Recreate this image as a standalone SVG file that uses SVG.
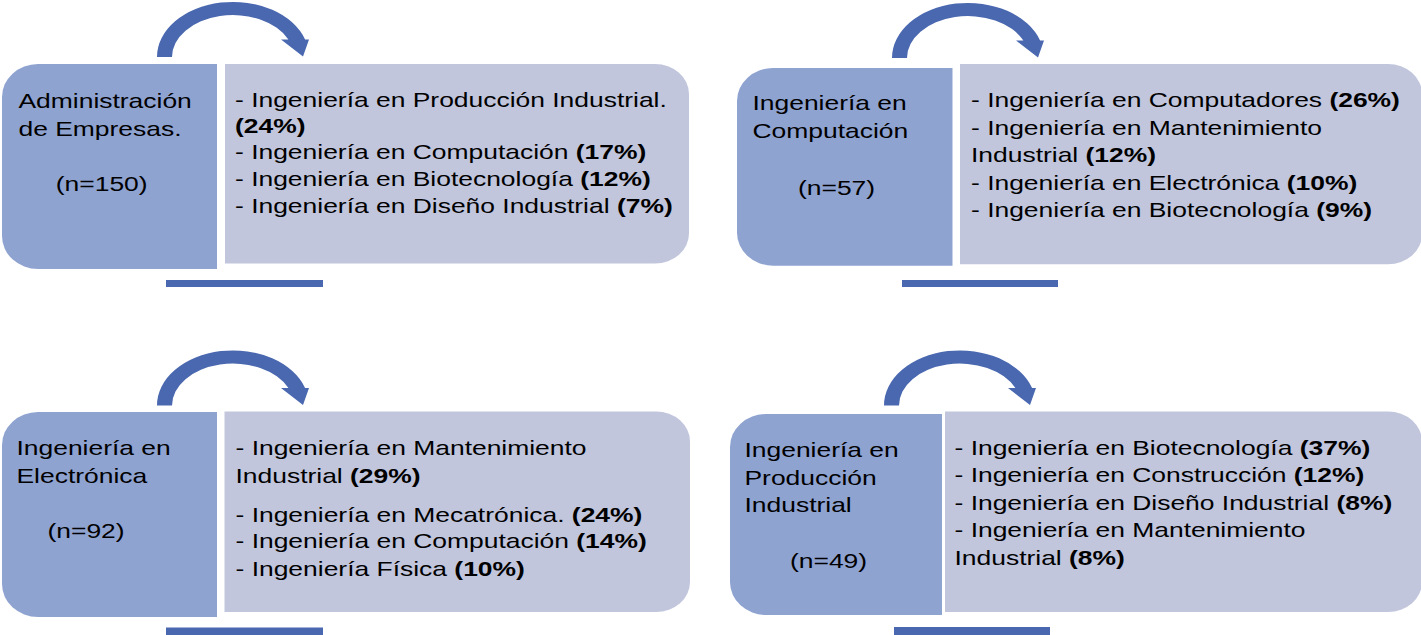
<svg xmlns="http://www.w3.org/2000/svg" xmlns:xlink="http://www.w3.org/1999/xlink" width="1421" height="635" viewBox="0 0 1421 635">
<style>
.t{font-family:"Liberation Sans",Arial,sans-serif;font-size:20.5px;fill:#000}
.b{font-weight:bold}
.lb{fill:#8FA3D1}
.rb{fill:#C1C6DD}
.ac{fill:#4A68B0}
</style>
<defs>
<path id="arc" d="M157 57 A76 55 0 0 1 305.1 39.5 L309 39.5 L303 56.5 L281 39.5 L288.4 39.5 A61 42 0 0 0 172 57 Z"/>
</defs>
<rect width="1421" height="635" fill="#fff"/>
<g id="connectors" class="ac">
<use xlink:href="#arc" href="#arc"/>
<use xlink:href="#arc" href="#arc" x="735" y="1"/>
<use xlink:href="#arc" href="#arc" x="0" y="348.5"/>
<use xlink:href="#arc" href="#arc" x="727" y="348.5"/>
<rect x="166" y="280" width="157" height="7"/>
<rect x="902" y="280" width="156" height="7"/>
<rect x="166" y="627.5" width="157" height="8"/>
<rect x="894" y="627" width="156" height="8"/>
</g>
<g id="node1">
<path class="lb" d="M217 64 V269 H38 A36 33 0 0 1 2 236 V97 A36 33 0 0 1 38 64 Z"/>
<path class="rb" d="M225 64 H655 A34 30 0 0 1 689 94 V233.5 A34 30 0 0 1 655 263.5 H225 Z"/>
<text class="t" transform="matrix(1.29 0 0 1 18.5 0)"><tspan x="0" y="108">Administración</tspan><tspan x="0" y="136">de Empresas.</tspan></text>
<text class="t" transform="matrix(1.29 0 0 1 55.8 0)"><tspan x="0" y="191.5">(n=150)</tspan></text>
<text class="t" transform="matrix(1.29 0 0 1 235 0)"><tspan x="0" y="107.5">- Ingeniería en Producción Industrial.</tspan><tspan x="0" y="133" class="b">(24%)</tspan><tspan x="0" y="159.5">- Ingeniería en Computación <tspan class="b">(17%)</tspan></tspan><tspan x="0" y="186">- Ingeniería en Biotecnología <tspan class="b">(12%)</tspan></tspan><tspan x="0" y="213">- Ingeniería en Diseño Industrial <tspan class="b">(7%)</tspan></tspan></text>
</g>
<g id="node2">
<path class="lb" d="M952.5 68 V265.7 H773 A36 33 0 0 1 737 232.7 V101 A36 33 0 0 1 773 68 Z"/>
<path class="rb" d="M960 64 H1388 A34 30 0 0 1 1422 94 V234.3 A34 30 0 0 1 1388 264.3 H960 Z"/>
<text class="t" transform="matrix(1.29 0 0 1 752.5 0)"><tspan x="0" y="110">Ingeniería en</tspan><tspan x="0" y="138.3">Computación</tspan></text>
<text class="t" transform="matrix(1.29 0 0 1 798 0)"><tspan x="0" y="195">(n=57)</tspan></text>
<text class="t" transform="matrix(1.29 0 0 1 971 0)"><tspan x="0" y="107.3">- Ingeniería en Computadores <tspan class="b">(26%)</tspan></tspan><tspan x="0" y="135">- Ingeniería en Mantenimiento</tspan><tspan x="0" y="162">Industrial <tspan class="b">(12%)</tspan></tspan><tspan x="0" y="190">- Ingeniería en Electrónica <tspan class="b">(10%)</tspan></tspan><tspan x="0" y="217">- Ingeniería en Biotecnología <tspan class="b">(9%)</tspan></tspan></text>
</g>
<g id="node3">
<path class="lb" d="M217 412 V617 H38 A36 33 0 0 1 2 584 V445 A36 33 0 0 1 38 412 Z"/>
<path class="rb" d="M224.5 411.5 H656 A34 30 0 0 1 690 441.5 V582 A34 30 0 0 1 656 612 H224.5 Z"/>
<text class="t" transform="matrix(1.29 0 0 1 16.5 0)"><tspan x="0" y="455">Ingeniería en</tspan><tspan x="0" y="483.3">Electrónica</tspan></text>
<text class="t" transform="matrix(1.29 0 0 1 47.5 0)"><tspan x="0" y="538.3">(n=92)</tspan></text>
<text class="t" transform="matrix(1.29 0 0 1 235.5 0)"><tspan x="0" y="455">- Ingeniería en Mantenimiento</tspan><tspan x="0" y="482.7">Industrial <tspan class="b">(29%)</tspan></tspan><tspan x="0" y="521.7">- Ingeniería en Mecatrónica. <tspan class="b">(24%)</tspan></tspan><tspan x="0" y="548.3">- Ingeniería en Computación <tspan class="b">(14%)</tspan></tspan><tspan x="0" y="576">- Ingeniería Física <tspan class="b">(10%)</tspan></tspan></text>
</g>
<g id="node4">
<path class="lb" d="M942 414 V615 H766 A36 33 0 0 1 730 582 V447 A36 33 0 0 1 766 414 Z"/>
<path class="rb" d="M945 411.5 H1388 A34 30 0 0 1 1422 441.5 V582 A34 30 0 0 1 1388 612 H945 Z"/>
<text class="t" transform="matrix(1.29 0 0 1 744.5 0)"><tspan x="0" y="457.3">Ingeniería en</tspan><tspan x="0" y="485">Producción</tspan><tspan x="0" y="512.3">Industrial</tspan></text>
<text class="t" transform="matrix(1.29 0 0 1 790 0)"><tspan x="0" y="568.3">(n=49)</tspan></text>
<text class="t" transform="matrix(1.29 0 0 1 954.5 0)"><tspan x="0" y="455">- Ingeniería en Biotecnología <tspan class="b">(37%)</tspan></tspan><tspan x="0" y="481.7">- Ingeniería en Construcción <tspan class="b">(12%)</tspan></tspan><tspan x="0" y="510">- Ingeniería en Diseño Industrial <tspan class="b">(8%)</tspan></tspan><tspan x="0" y="537.3">- Ingeniería en Mantenimiento</tspan><tspan x="0" y="565">Industrial <tspan class="b">(8%)</tspan></tspan></text>
</g>
</svg>
